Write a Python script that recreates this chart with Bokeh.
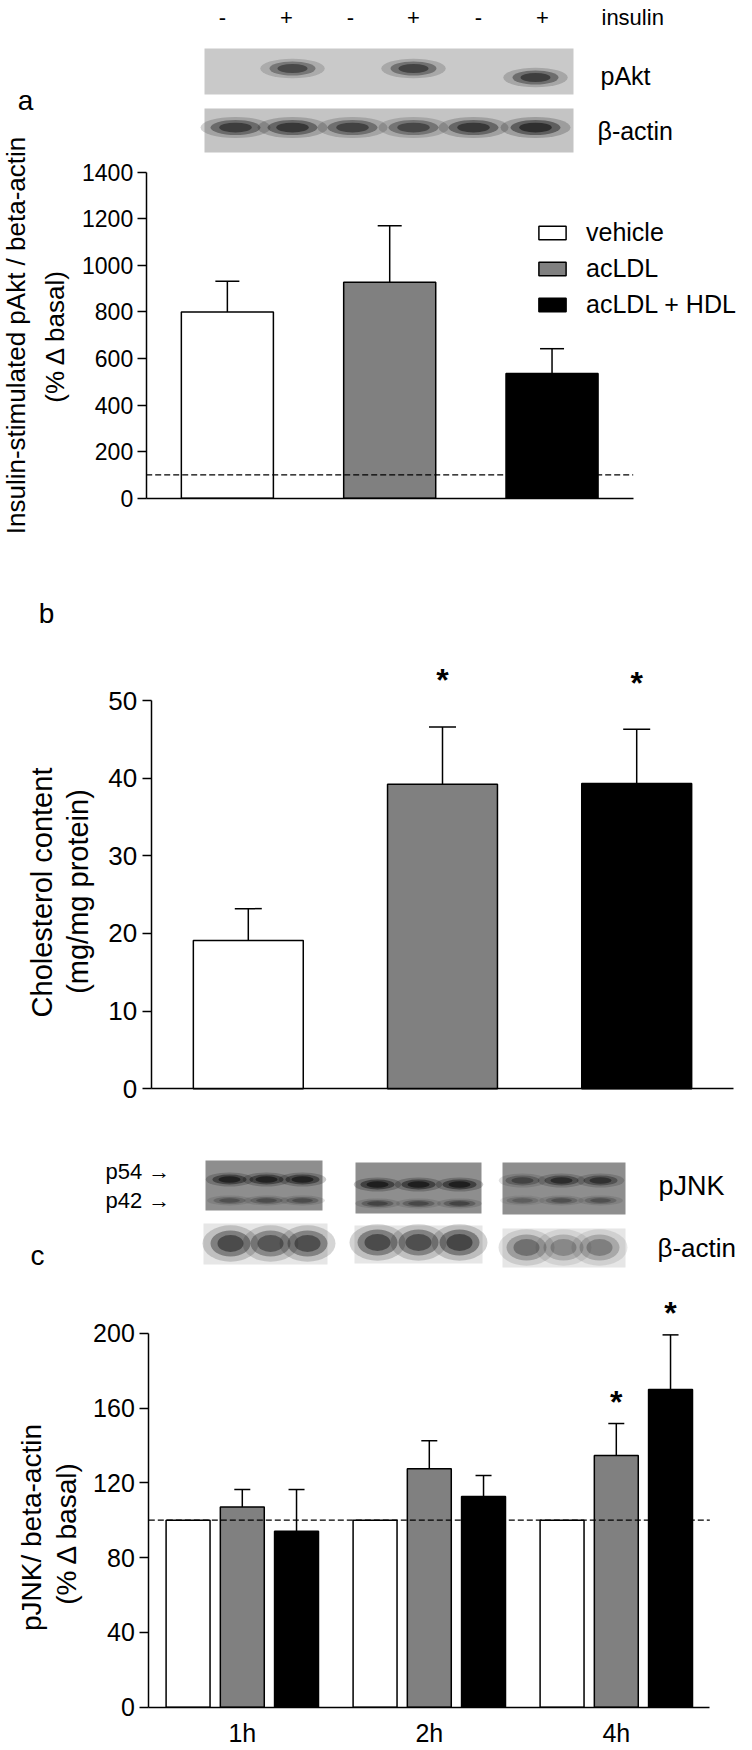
import math
from bokeh.plotting import figure
from bokeh.layouts import column
from bokeh.models import (Range1d, FixedTicker, ColumnDataSource, Whisker,
                          TeeHead, Label, Legend, LegendItem)
from bokeh.embed import file_html
from bokeh.resources import INLINE
from bokeh.core.properties import value

FONT = "Liberation Sans"
PAGE_W = 752

# ---------------- data ----------------
groups = ["vehicle", "acLDL", "acLDL + HDL"]
group_colors = ["#ffffff", "#808080", "#000000"]

pakt_mean = [800, 927, 535]
pakt_sem = [132, 243, 107]
pakt_basal = 100
pakt_ticks = [0, 200, 400, 600, 800, 1000, 1200, 1400]

chol_mean = [19.1, 39.2, 39.3]
chol_sem = [4.1, 7.4, 7.0]
chol_sig = ["", "*", "*"]
chol_ticks = [0, 10, 20, 30, 40, 50]

times = ["1h", "2h", "4h"]
jnk_vehicle = [100, 100, 100]
jnk_acldl = [107.0, 127.5, 134.6]
jnk_acldl_sem = [9.4, 15.0, 17.1]
jnk_acldl_sig = ["", "", "*"]
jnk_hdl = [94.1, 112.7, 169.9]
jnk_hdl_sem = [22.3, 11.2, 29.2]
jnk_hdl_sig = ["", "", "*"]
jnk_basal = 100
jnk_ticks = [0, 40, 80, 120, 160, 200]

insulin = ["-", "+", "-", "+", "-", "+"]
pakt_band = [0.0, 0.75, 0.0, 0.8, 0.0, 0.85]
actin_a_band = [0.85, 0.9, 0.8, 0.75, 0.9, 1.0]
p54_band = [[0.95, 0.95, 0.95], [1.0, 1.0, 1.0], [0.55, 0.8, 0.75]]
p42_band = [[0.55, 0.6, 0.6], [0.7, 0.65, 0.7], [0.4, 0.55, 0.55]]
actin_c_band = [[0.9, 0.8, 0.85], [0.9, 0.85, 0.95], [0.6, 0.45, 0.5]]


# ---------------- helpers ----------------
class Panel:
    """A figure whose frame fills the whole canvas; axes are drawn at x=0/y=0."""

    def __init__(self, page_top, height, axis_x, axis_y, x_unit,
                 y_top_px, y_top_val):
        self.ax = axis_x
        self.ay = axis_y
        self.ux = x_unit
        self.uy = (axis_y - y_top_px) / y_top_val
        p = figure(width=PAGE_W, height=height,
                   x_range=Range1d(self.X(0), self.X(PAGE_W)),
                   y_range=Range1d(self.Y(page_top + height), self.Y(page_top)),
                   output_backend="svg", toolbar_location=None, title=None,
                   min_border_left=0, min_border_right=0,
                   min_border_top=0, min_border_bottom=0)
        p.outline_line_color = None
        p.xgrid.visible = False
        p.ygrid.visible = False
        p.background_fill_color = "white"
        p.border_fill_color = "white"
        self.p = p

    def X(self, xp):
        return (xp - self.ax) / self.ux

    def Y(self, yp):
        return (self.ay - yp) / self.uy

    def W(self, w):
        return w / self.ux

    def H(self, h):
        return h / self.uy

    def label(self, text, xp, yp, size, align="center", angle=0.0,
              bold=False, baseline="middle"):
        self.p.add_layout(Label(
            x=self.X(xp), y=self.Y(yp), text=text, angle=angle,
            text_align=align, text_baseline=baseline, text_font=FONT,
            text_font_size=f"{size}px", text_color="black",
            text_font_style="bold" if bold else "normal"))

    def blot(self, x0, x1, y0, y1, bg):
        self.p.quad(left=[self.X(x0)], right=[self.X(x1)],
                    top=[self.Y(y0)], bottom=[self.Y(y1)],
                    fill_color=bg, line_color=None)

    def bands(self, xs, ys, w, h, intens, color="#111111"):
        for scale, a in [(1.4, 0.22), (1.0, 0.45), (0.65, 0.6)]:
            self.p.ellipse(x=[self.X(v) for v in xs], y=[self.Y(v) for v in ys],
                           width=self.W(w * scale), height=self.H(h * scale),
                           fill_color=color,
                           fill_alpha=[a * i for i in intens], line_color=None)


def style_axes(P, yticks, yfont, standoff, nx, xlabels=None, xfont=25,
               xstandoff=7):
    p = P.p
    ya = p.yaxis[0]
    ya.fixed_location = 0
    ya.ticker = FixedTicker(ticks=yticks)
    ya.bounds = (0, yticks[-1])
    ya.axis_line_width = 1.5
    ya.axis_line_color = "black"
    ya.major_tick_line_width = 1.5
    ya.major_tick_line_color = "black"
    ya.major_tick_out = 9
    ya.major_tick_in = 0
    ya.minor_tick_line_color = None
    ya.major_label_text_font = FONT
    ya.major_label_text_font_size = f"{yfont}px"
    ya.major_label_text_color = "black"
    ya.major_label_standoff = standoff
    xa = p.xaxis[0]
    xa.fixed_location = 0
    xa.bounds = (0, nx)
    xa.axis_line_width = 1.5
    xa.axis_line_color = "black"
    xa.minor_tick_line_color = None
    xa.major_tick_line_color = None
    xa.major_tick_out = 0
    xa.major_tick_in = 0
    if xlabels:
        xa.ticker = FixedTicker(ticks=[i + 0.5 for i in range(nx)])
        xa.major_label_overrides = {i + 0.5: lab for i, lab in enumerate(xlabels)}
        xa.major_label_text_font = FONT
        xa.major_label_text_font_size = f"{xfont}px"
        xa.major_label_text_color = "black"
        xa.major_label_standoff = xstandoff
    else:
        xa.ticker = FixedTicker(ticks=[])
        xa.major_label_text_font_size = "0px"


# ================= panel a =================
A = Panel(page_top=0, height=560, axis_x=145.7, axis_y=497.7,
          x_unit=487 / 3, y_top_px=171.7, y_top_val=1400)
pa = A.p
style_axes(A, pakt_ticks, 23, 4, len(groups))

xa_pos = [i + 0.5 for i in range(len(groups))]
src_a = ColumnDataSource(dict(
    x=xa_pos, top=pakt_mean,
    upper=[m + s for m, s in zip(pakt_mean, pakt_sem)],
    color=group_colors, group=groups))
ra = pa.vbar(x="x", top="top", width=0.567, source=src_a, fill_color="color",
             line_color="black", line_width=1.5)
pa.add_layout(Whisker(source=src_a, base="x", lower="top", upper="upper",
                      dimension="height", line_color="black", line_width=1.5,
                      upper_head=TeeHead(size=24, line_width=1.5,
                                         line_color="black"),
                      lower_head=None))
pa.segment(x0=[0], x1=[len(groups)], y0=[pakt_basal], y1=[pakt_basal],
           line_color="black", line_width=1.3, line_dash="6 3")

leg = Legend(items=[LegendItem(label=g, renderers=[ra], index=i)
                    for i, g in enumerate(groups)],
             location=(535, 241), orientation="vertical",
             glyph_width=34, glyph_height=17, label_height=17,
             label_text_font=FONT, label_text_font_size="25px",
             label_text_color="black",
             label_standoff=17, spacing=7, padding=0, margin=0,
             border_line_color=None, background_fill_alpha=0)
pa.add_layout(leg)

# blots for panel a
lanes_a = [235, 292, 352, 413, 473, 535]
sign_x = [222, 286, 350, 413, 478, 542]
A.blot(204, 573, 48, 94, "#c9c9c9")
A.bands([lanes_a[i] for i in range(6) if pakt_band[i] > 0],
        [68, 68, 77], 46, 14, [b for b in pakt_band if b > 0])
A.blot(204, 573, 108, 152, "#c4c4c4")
A.bands(lanes_a, [127] * 6, 50, 15, actin_a_band)
for s, xs in zip(insulin, sign_x):
    A.label(s, xs, 17, 22)
A.label("insulin", 601, 17, 22, align="left")
A.label("pAkt", 600, 75, 25, align="left")
A.label("\u03b2-actin", 597, 130, 25, align="left")
A.label("a", 25, 100, 28)
A.label("Insulin-stimulated pAkt / beta-actin", 15, 335, 26, angle=math.pi / 2)
A.label("(% \u0394 basal)", 54, 335, 26, angle=math.pi / 2)

# ================= panel b =================
B = Panel(page_top=560, height=570, axis_x=150.7, axis_y=1088.3,
          x_unit=582.6 / 3, y_top_px=700, y_top_val=50)
pb = B.p
style_axes(B, chol_ticks, 26, 5, len(groups))
src_b = ColumnDataSource(dict(
    x=xa_pos, top=chol_mean,
    upper=[m + s for m, s in zip(chol_mean, chol_sem)],
    star_y=[m + s + 6.0 for m, s in zip(chol_mean, chol_sem)],
    sig=chol_sig, color=group_colors))
pb.vbar(x="x", top="top", width=0.566, source=src_b, fill_color="color",
        line_color="black", line_width=1.5)
pb.add_layout(Whisker(source=src_b, base="x", lower="top", upper="upper",
                      dimension="height", line_color="black", line_width=1.5,
                      upper_head=TeeHead(size=27, line_width=1.5,
                                         line_color="black"),
                      lower_head=None))
pb.text(x="x", y="star_y", text="sig", source=src_b, text_font=value(FONT),
        text_font_size=value("32px"), text_font_style="bold",
        text_align="center", text_baseline="middle", text_color="black")
B.label("b", 46, 613, 28)
B.label("Cholesterol content", 41, 892, 29, angle=math.pi / 2)
B.label("(mg/mg protein)", 77, 891, 29, angle=math.pi / 2)

# ================= panel c =================
C = Panel(page_top=1130, height=618, axis_x=148.3, axis_y=1706.7,
          x_unit=187, y_top_px=1332.7, y_top_val=200)
pc = C.p
style_axes(C, jnk_ticks, 25, 5, len(times), xlabels=times, xfont=25,
           xstandoff=12)
off = 0.29
bw = 0.235
tx = [i + 0.5 for i in range(len(times))]
src_v = ColumnDataSource(dict(x=[t - off for t in tx], top=jnk_vehicle))
src_g = ColumnDataSource(dict(
    x=tx, top=jnk_acldl,
    upper=[m + s for m, s in zip(jnk_acldl, jnk_acldl_sem)],
    star_y=[m + s + 11.5 for m, s in zip(jnk_acldl, jnk_acldl_sem)],
    sig=jnk_acldl_sig))
src_k = ColumnDataSource(dict(
    x=[t + off for t in tx], top=jnk_hdl,
    upper=[m + s for m, s in zip(jnk_hdl, jnk_hdl_sem)],
    star_y=[m + s + 11.5 for m, s in zip(jnk_hdl, jnk_hdl_sem)],
    sig=jnk_hdl_sig))
pc.vbar(x="x", top="top", width=bw, source=src_v, fill_color=group_colors[0],
        line_color="black", line_width=1.5)
for src, col in [(src_g, group_colors[1]), (src_k, group_colors[2])]:
    pc.vbar(x="x", top="top", width=bw, source=src, fill_color=col,
            line_color="black", line_width=1.5)
    pc.add_layout(Whisker(source=src, base="x", lower="top", upper="upper",
                          dimension="height", line_color="black",
                          line_width=1.5,
                          upper_head=TeeHead(size=16, line_width=1.5,
                                             line_color="black"),
                          lower_head=None))
    pc.text(x="x", y="star_y", text="sig", source=src, text_font=value(FONT),
            text_font_size=value("32px"), text_font_style="bold",
            text_align="center", text_baseline="middle", text_color="black")
pc.segment(x0=[0], x1=[len(times)], y0=[jnk_basal], y1=[jnk_basal],
           line_color="black", line_width=1.3, line_dash="6 3")

# blots for panel c
jnk_boxes = [(205, 322, 1160, 1210), (355, 481, 1162, 1213), (502, 625, 1162, 1214)]
jnk_lanes = [[229, 266, 302], [377, 418, 459], [522, 561, 600]]
p54_y = [1179, 1184, 1180]
p42_y = [1200, 1203, 1200]
act_boxes = [(203, 327, 1223, 1264), (354, 482, 1225, 1263), (502, 625, 1228, 1267)]
act_lanes = [[230, 270, 307], [377, 418, 459], [526, 563, 599]]
act_y = [1243, 1242, 1247]
for k in range(3):
    x0, x1, y0, y1 = jnk_boxes[k]
    C.blot(x0, x1, y0, y1, "#8e8e8e")
    C.bands(jnk_lanes[k], [p54_y[k]] * 3, 34, 10, p54_band[k], "#080808")
    C.bands(jnk_lanes[k], [p42_y[k]] * 3, 32, 7, p42_band[k], "#202020")
    x0, x1, y0, y1 = act_boxes[k]
    C.blot(x0, x1, y0, y1, "#e6e6e6")
    C.bands(act_lanes[k], [act_y[k]] * 3, 40, 26, actin_c_band[k], "#202020")
C.label("p54 \u2192", 105, 1171, 22, align="left")
C.label("p42 \u2192", 105, 1200, 22, align="left")
C.label("pJNK", 658, 1185, 27, align="left")
C.label("\u03b2-actin", 657, 1247, 26, align="left")
C.label("c", 37, 1255, 28)
C.label("pJNK/ beta-actin", 31, 1527, 28, angle=math.pi / 2)
C.label("(% \u0394 basal)", 66, 1532, 28, angle=math.pi / 2)

layout = column(pa, pb, pc, spacing=0)
open("out.html", "w").write(file_html(layout, INLINE))
